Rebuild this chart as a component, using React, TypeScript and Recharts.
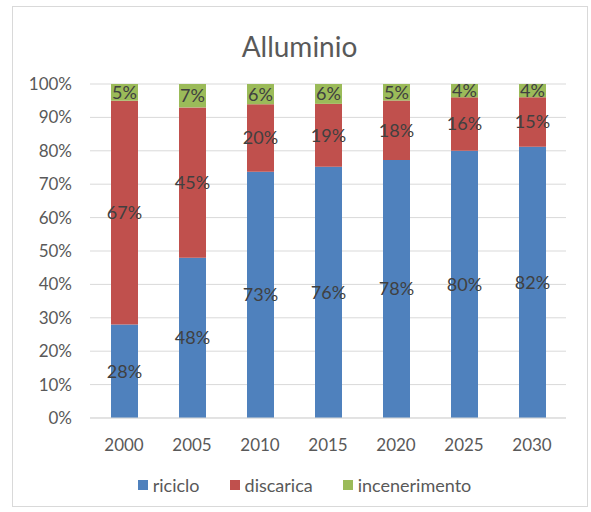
import { BarChart, Bar, XAxis, YAxis, CartesianGrid, LabelList } from "recharts";

const years = ["2000", "2005", "2010", "2015", "2020", "2025", "2030"];
const riciclo = [28, 48, 73, 76, 78, 80, 82];
const discarica = [67, 45, 20, 19, 18, 16, 15];
const incenerimento = [5, 7, 6, 6, 5, 4, 4];
const yTicks = [0, 0.1, 0.2, 0.3, 0.4, 0.5, 0.6, 0.7, 0.8, 0.9, 1];

const series = [
  { key: "riciclo", color: "#4F81BD" },
  { key: "discarica", color: "#C0504D" },
  { key: "incenerimento", color: "#9BBB59" },
];

const data = years.map((year, i) => ({
  year,
  riciclo: riciclo[i],
  discarica: discarica[i],
  incenerimento: incenerimento[i],
}));

const FONT = "Lato, 'Liberation Sans', sans-serif";
const pct = (v: any) => `${v}%`;

export default function App() {
  return (
    <div style={{ position: "absolute", left: 0, top: 0, width: 591, height: 512, background: "#fff", fontFamily: FONT }}>
      {/* chart frame */}
      <div
        style={{
          position: "absolute",
          left: 12,
          top: 6,
          width: 576,
          height: 501,
          border: "1px solid #d9d9d9",
          boxSizing: "border-box",
        }}
      />
      <div
        style={{
          position: "absolute",
          top: 28,
          left: 4,
          width: 591,
          textAlign: "center",
          fontSize: 28,
          lineHeight: "36px",
          color: "#595959",
        }}
      >
        Alluminio
      </div>
      <BarChart
        width={591}
        height={512}
        data={data}
        stackOffset="expand"
        margin={{ top: 84, right: 25, bottom: 54, left: 0 }}
        style={{ position: "absolute", left: 0, top: 0 }}
      >
        <CartesianGrid vertical={false} stroke="#d9d9d9" />
        <XAxis
          dataKey="year"
          tickLine={false}
          axisLine={{ stroke: "#d9d9d9" }}
          tick={{ fill: "#595959", fontSize: 17, fontFamily: FONT }}
          tickMargin={15}
          height={40}
        />
        <YAxis
          width={90}
          ticks={yTicks}
          domain={[0, 1]}
          tickFormatter={(v: number) => `${Math.round(v * 100)}%`}
          tickLine={false}
          axisLine={false}
          tickSize={0}
          tickMargin={18}
          tick={{ fill: "#595959", fontSize: 17, fontFamily: FONT }}
        />
        {series.map((s) => (
          <Bar key={s.key} dataKey={s.key} stackId="a" fill={s.color} barSize={27} isAnimationActive={false}>
            <LabelList dataKey={s.key} position="center" formatter={pct} fill="#404040" fontSize={18} fontFamily={FONT} />
          </Bar>
        ))}
      </BarChart>
      {/* legend */}
      <div
        style={{
          position: "absolute",
          top: 474,
          left: 0,
          width: 609,
          display: "flex",
          justifyContent: "center",
          gap: 30,
          fontSize: 18,
          lineHeight: "22px",
          color: "#595959",
        }}
      >
        {series.map((s) => (
          <div key={s.key} style={{ display: "flex", alignItems: "center" }}>
            <span style={{ width: 10, height: 10, background: s.color, marginRight: 5, display: "inline-block" }} />
            <span>{s.key}</span>
          </div>
        ))}
      </div>
    </div>
  );
}
